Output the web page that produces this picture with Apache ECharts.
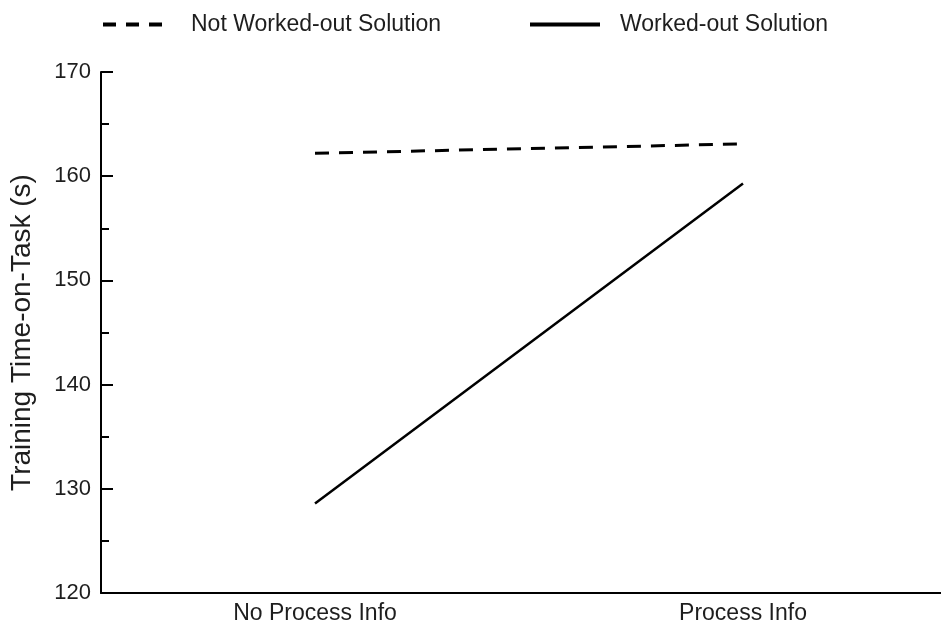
<!DOCTYPE html>
<html>
<head>
<meta charset="utf-8">
<script src="https://cdn.jsdelivr.net/npm/echarts@6/dist/echarts.min.js"></script>
<style>html,body{margin:0;padding:0;background:#fff;overflow:hidden;}#c{width:960px;height:627px;}</style>
</head>
<body>
<div id="c"></div>
<script>
var categories = ['No Process Info', 'Process Info'];
var notWorkedOut = [162.2, 163.1];
var workedOut = [128.6, 159.3];
var seriesNames = ['Not Worked-out Solution', 'Worked-out Solution'];
var yTicks = {min: 120, max: 170, interval: 10};

var font = 'Liberation Sans, Arial, sans-serif';
var txt = '#1e1e1e';
var chart = echarts.init(document.getElementById('c'), null, {renderer: 'canvas'});
chart.setOption({
  backgroundColor: '#fff',
  animation: false,
  legend: [
    {data: [seriesNames[0]], left: 101, top: 13, padding: 0, itemWidth: 67, itemHeight: 14,
     itemStyle: {opacity: 0}, lineStyle: {width: 4, type: [13, 10]},
     textStyle: {fontFamily: font, fontSize: 23, color: txt, padding: [0, 0, 0, 16]}},
    {data: [seriesNames[1]], left: 528, top: 13, padding: 0, itemWidth: 70, itemHeight: 14,
     itemStyle: {opacity: 0}, lineStyle: {width: 4},
     textStyle: {fontFamily: font, fontSize: 23, color: txt, padding: [0, 0, 0, 15]}}
  ],
  grid: {left: 101, top: 72, bottom: 34, right: 3, containLabel: false},
  xAxis: {
    type: 'category', data: categories, boundaryGap: true,
    axisLine: {lineStyle: {color: '#000', width: 2}},
    axisTick: {inside: true, alignWithLabel: true, length: 12, lineStyle: {color: '#000', width: 2}},
    axisLabel: {fontFamily: font, fontSize: 23, color: txt, margin: 9}
  },
  yAxis: {
    type: 'value', min: yTicks.min, max: yTicks.max, interval: yTicks.interval,
    name: 'Training Time-on-Task (s)', nameLocation: 'middle', nameGap: 65,
    nameTextStyle: {fontFamily: font, fontSize: 28, color: txt},
    axisLine: {show: true, lineStyle: {color: '#000', width: 2}},
    axisTick: {show: true, inside: true, length: 12, lineStyle: {color: '#000', width: 2}},
    minorTick: {show: true, splitNumber: 2, length: 8, lineStyle: {color: '#000', width: 2}},
    splitLine: {show: false},
    axisLabel: {fontFamily: font, fontSize: 22, color: txt, margin: 10}
  },
  series: [
    {name: seriesNames[0], type: 'line', data: notWorkedOut, symbol: 'none',
     lineStyle: {color: '#000', width: 3, type: [14, 10]}, itemStyle: {color: '#000'}},
    {name: seriesNames[1], type: 'line', data: workedOut, symbol: 'none',
     lineStyle: {color: '#000', width: 2.5}, itemStyle: {color: '#000'}}
  ]
});
</script>
</body>
</html>
